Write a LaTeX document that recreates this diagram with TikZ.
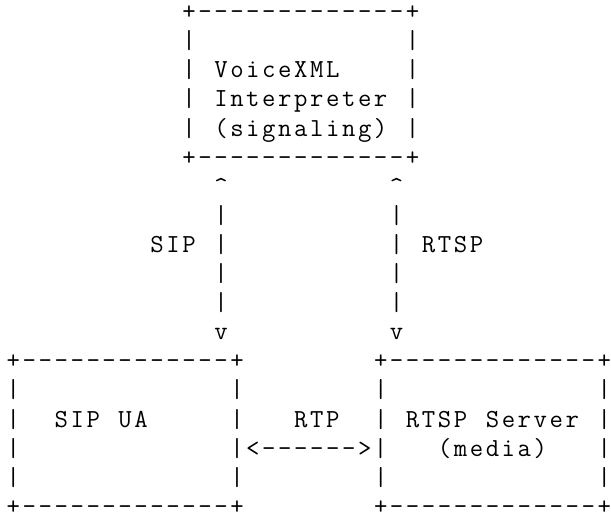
\documentclass[tikz,border=0pt]{standalone}
\usepackage{fontspec}
\newcommand{\cw}{15.97}
\newcommand{\xo}{5.4}
\newcommand{\rp}{29.1}
\newcommand{\bz}{19.6}
\newlength{\cwl}\setlength{\cwl}{15.97pt}
\makeatletter
\def\mono#1{\monoloop#1\@nil}
\def\monoloop#1{\ifx#1\@nil\else\hbox to\cwl{\hss#1\hss}\expandafter\monoloop\fi}
\makeatother
\tikzset{ascii/.style={inner sep=0pt, outer sep=0pt, anchor=base west,
  font=\ttfamily\fontsize{26}{28}\selectfont}}
\newcommand{\asc}[4]{\node[ascii] (#1) at ({(\xo+#2*\cw)*1pt},{-(\bz+#3*\rp)*1pt}) {\mono{#4}};}
\begin{document}
\begin{tikzpicture}
\useasboundingbox (0,0) rectangle (611pt,-520pt);
% top box: VoiceXML Interpreter
\asc{t0}{11}{0}{+-------------+}
\asc{t1l}{11}{1}{|}\asc{t1r}{25}{1}{|}
\asc{t2l}{11}{2}{|}\asc{t2}{13}{2}{VoiceXML}\asc{t2r}{25}{2}{|}
\asc{t3l}{11}{3}{|}\asc{t3}{13}{3}{Interpreter}\asc{t3r}{25}{3}{|}
\asc{t4l}{11}{4}{|}\asc{t4}{13}{4}{(signaling)}\asc{t4r}{25}{4}{|}
\asc{t5}{11}{5}{+-------------+}
% connectors
\asc{a6l}{13}{6}{\textasciicircum}\asc{a6r}{24}{6}{\textasciicircum}
\asc{a7l}{13}{7}{|}\asc{a7r}{24}{7}{|}
\asc{sip}{9}{8}{SIP}\asc{a8l}{13}{8}{|}\asc{a8r}{24}{8}{|}\asc{rtsp}{26}{8}{RTSP}
\asc{a9l}{13}{9}{|}\asc{a9r}{24}{9}{|}
\asc{a10l}{13}{10}{|}\asc{a10r}{24}{10}{|}
\asc{a11l}{13}{11}{v}\asc{a11r}{24}{11}{v}
% bottom boxes
\asc{l12}{0}{12}{+-------------+}\asc{r12}{23}{12}{+-------------+}
\asc{l13l}{0}{13}{|}\asc{l13r}{14}{13}{|}\asc{r13l}{23}{13}{|}\asc{r13r}{37}{13}{|}
\asc{l14l}{0}{14}{|}\asc{ua1}{3}{14}{SIP}\asc{ua2}{7}{14}{UA}\asc{l14r}{14}{14}{|}
\asc{rtp}{18}{14}{RTP}
\asc{r14l}{23}{14}{|}\asc{srv1}{25}{14}{RTSP}\asc{srv2}{30}{14}{Server}\asc{r14r}{37}{14}{|}
\asc{l15l}{0}{15}{|}\asc{arr}{14}{15}{|<------>|}\asc{med}{27}{15}{(media)}\asc{r15r}{37}{15}{|}
\asc{l16l}{0}{16}{|}\asc{l16r}{14}{16}{|}\asc{r16l}{23}{16}{|}\asc{r16r}{37}{16}{|}
\asc{l17}{0}{17}{+-------------+}\asc{r17}{23}{17}{+-------------+}
\end{tikzpicture}
\end{document}
